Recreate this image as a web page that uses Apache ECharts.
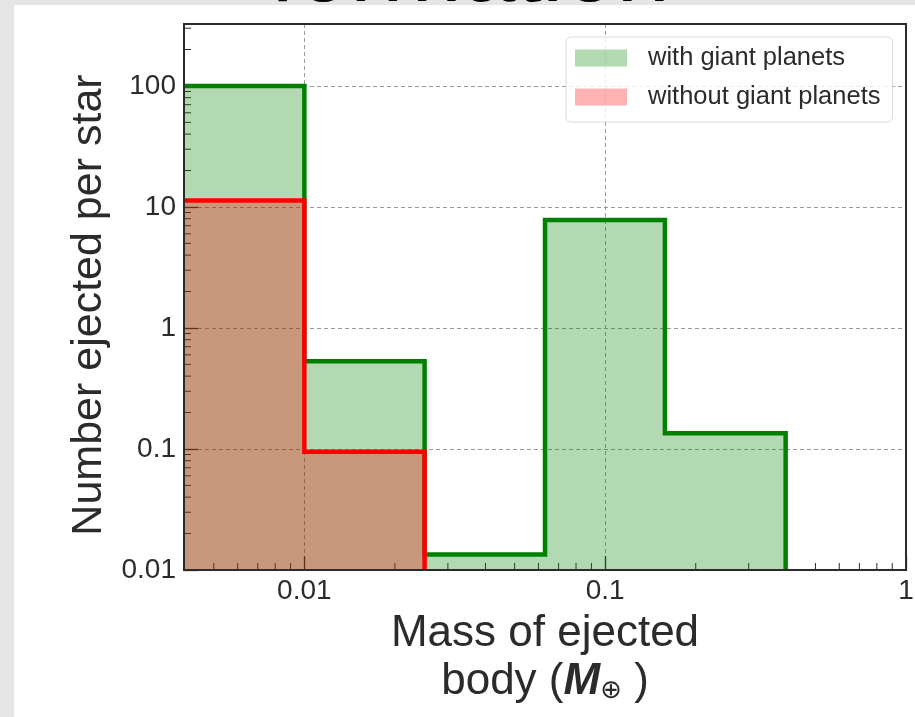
<!DOCTYPE html>
<html>
<head>
<meta charset="utf-8">
<script src="https://cdn.jsdelivr.net/npm/echarts@6/dist/echarts.min.js"></script>
<style>
html,body{margin:0;padding:0;background:#e5e5e5;}
#chart{width:915px;height:717px;}
</style>
</head>
<body>
<div id="chart"></div>
<script>
// ---- data ----
const binEdges = [0.00398, 0.01, 0.0251, 0.0631, 0.158, 0.398];
const withGiant = [100, 0.53, 0.0134, 7.8, 0.135];
const withoutGiant = [11.3, 0.095];
const seriesNames = ['with giant planets', 'without giant planets'];
const titleText = 'formation';
const X_MIN = 0.00398, X_MAX = 1;
const Y_MIN = 0.01, Y_MAX = 325;
const xMinorTicks = [0.005,0.006,0.007,0.008,0.009,
  0.02,0.03,0.04,0.05,0.06,0.07,0.08,0.09,
  0.2,0.3,0.4,0.5,0.6,0.7,0.8,0.9];
const yMinorTicks = [0.02,0.03,0.04,0.05,0.06,0.07,0.08,0.09,
  0.2,0.3,0.4,0.5,0.6,0.7,0.8,0.9,
  2,3,4,5,6,7,8,9,
  20,30,40,50,60,70,80,90,
  200,300];

const FONT = 'Liberation Sans';
const TXT = '#2b2b2b';
const FRAME = '#2b2b2b';

// size the clipped title so its width matches the reference (~400px)
const mctx = document.createElement('canvas').getContext('2d');
mctx.font = '96px "Liberation Sans"';
const titleSize = 96 * 400 / mctx.measureText(titleText).width;

function stepData(edges, vals) {
  const d = [];
  vals.forEach((v, i) => d.push([edges[i], v]));
  d.push([edges[vals.length], vals[vals.length - 1]]);
  d.push([edges[vals.length], Y_MIN]);
  return d;
}

const frameAxis = {
  z: 10,
  axisLine: {show: true, onZero: false, lineStyle: {color: FRAME, width: 2}},
  axisTick: {show: false}, axisLabel: {show: false}, splitLine: {show: false}
};

const chart = echarts.init(document.getElementById('chart'));
chart.setOption({
  animation: false,
  backgroundColor: '#e5e5e5',
  graphic: [
    {type: 'text', x: 470, y: 4 - 0.31 * titleSize, z: -200, silent: true,
     style: {text: titleText, fontSize: titleSize, fontFamily: FONT, fill: '#000', align: 'center', verticalAlign: 'middle'}},
    {type: 'rect', z: -100, silent: true, shape: {x: 14, y: 5, width: 901, height: 712}, style: {fill: '#ffffff'}}
  ],
  grid: {left: 184, right: 9, top: 24, bottom: 147, show: true, z: 10,
         borderColor: FRAME, borderWidth: 2, backgroundColor: 'rgba(0,0,0,0)',
         containLabel: false, outerBoundsMode: 'none'},
  legend: {
    orient: 'vertical', left: 566, top: 37,
    itemWidth: 52, itemHeight: 17, itemGap: 13,
    padding: [8, 12, 12, 9],
    backgroundColor: 'rgba(255,255,255,0.8)', borderColor: '#dadada', borderWidth: 1, borderRadius: 5,
    textStyle: {fontSize: 25.5, lineHeight: 24, color: TXT, fontFamily: FONT, padding: [0, 0, 0, 16]},
    data: [
      {name: seriesNames[0], icon: 'rect', itemStyle: {color: 'rgba(0,128,0,0.3)', borderWidth: 0}},
      {name: seriesNames[1], icon: 'rect', itemStyle: {color: 'rgba(255,0,0,0.3)', borderWidth: 0}}
    ]
  },
  xAxis: [{
    type: 'log', min: X_MIN, max: X_MAX, position: 'bottom',
    name: 'Mass of ejected\nbody ({m|M}{s|⊕} )',
    nameLocation: 'middle', nameGap: 33,
    nameTextStyle: {fontSize: 44, lineHeight: 48, color: TXT, fontFamily: FONT,
      rich: {m: {fontSize: 44, fontStyle: 'italic', fontWeight: 'bold', fontFamily: FONT, color: TXT},
             s: {fontSize: 26, fontFamily: 'DejaVu Sans', color: TXT, padding: [18, 0, 0, 0]}}},
    axisLine: {show: true, onZero: false, lineStyle: {color: FRAME, width: 2}},
    axisTick: {show: true, inside: true, length: 14, lineStyle: {color: FRAME, width: 1.3}},
    axisLabel: {fontSize: 28, color: TXT, fontFamily: FONT, margin: 7, showMinLabel: false},
    splitLine: {show: true, showMinLine: false, showMaxLine: false, lineStyle: {color: '#999', width: 1, type: [4, 3]}},
    minorTick: {show: false}
  }, Object.assign({type: 'log', min: X_MIN, max: X_MAX, position: 'top'}, frameAxis)],
  yAxis: [{
    type: 'log', min: Y_MIN, max: Y_MAX, position: 'left',
    name: 'Number ejected per star',
    nameLocation: 'middle', nameGap: 71, nameRotate: 90,
    nameTextStyle: {fontSize: 43, color: TXT, fontFamily: FONT, padding: [0, 16, 0, 0]},
    axisLine: {show: true, onZero: false, lineStyle: {color: FRAME, width: 2}},
    axisTick: {show: true, inside: true, length: 14, lineStyle: {color: FRAME, width: 1.3}},
    axisLabel: {fontSize: 28, color: TXT, fontFamily: FONT, margin: 8, showMaxLabel: false},
    splitLine: {show: true, showMinLine: false, showMaxLine: false, lineStyle: {color: '#999', width: 1, type: [4, 3]}}
  }, Object.assign({type: 'log', min: Y_MIN, max: Y_MAX, position: 'right'}, frameAxis)],
  series: [
    {
      type: 'custom', name: 'xminor', z: 1, silent: true, clip: false,
      data: xMinorTicks.map(v => [v, Y_MIN]),
      renderItem: (params, api) => {
        const p = api.coord([api.value(0), api.value(1)]);
        return {type: 'line', shape: {x1: p[0], y1: p[1], x2: p[0], y2: p[1] - 7},
                style: {stroke: FRAME, lineWidth: 1}};
      }
    },
    {
      type: 'custom', name: 'yminor', z: 1, silent: true, clip: false,
      data: yMinorTicks.map(v => [X_MIN, v]),
      renderItem: (params, api) => {
        const p = api.coord([api.value(0), api.value(1)]);
        return {type: 'line', shape: {x1: p[0], y1: p[1], x2: p[0] + 7, y2: p[1]},
                style: {stroke: FRAME, lineWidth: 1}};
      }
    },
    {
      name: seriesNames[0], type: 'line', step: 'end', symbol: 'none', z: 2,
      data: stepData(binEdges, withGiant),
      lineStyle: {color: '#008000', width: 4.5, join: 'miter'},
      itemStyle: {color: '#008000'},
      areaStyle: {color: 'rgba(0,128,0,0.3)', opacity: 1, origin: 'start'}
    },
    {
      name: seriesNames[1], type: 'line', step: 'end', symbol: 'none', z: 3,
      data: stepData(binEdges, withoutGiant),
      lineStyle: {color: '#ff0000', width: 4.5, join: 'miter'},
      itemStyle: {color: '#ff0000'},
      areaStyle: {color: 'rgba(255,0,0,0.3)', opacity: 1, origin: 'start'}
    }
  ]
});
</script>
</body>
</html>
